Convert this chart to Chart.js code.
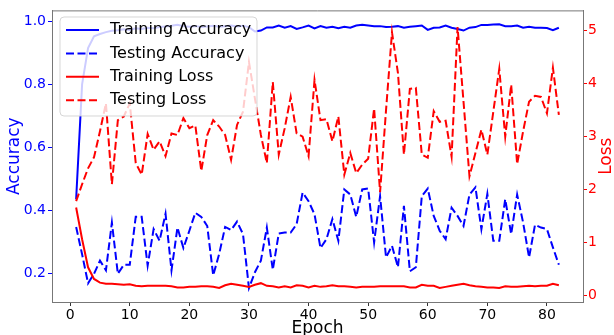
<!DOCTYPE html>
<html>
<head>
<meta charset="utf-8">
<script src="https://cdn.jsdelivr.net/npm/chart.js@4.4.1/dist/chart.umd.min.js"></script>
<style>
  html, body { margin: 0; padding: 0; background: #fff; }
  #wrap { width: 614px; height: 335px; }
</style>
</head>
<body>
<div id="wrap"><canvas id="chart" width="614" height="335"></canvas></div>
<script>
// epochs 1..82
var epochs = [];
for (var i = 1; i <= 82; i++) epochs.push(i);

var trainAcc = [
  0.435, 0.80, 0.915, 0.953, 0.960, 0.966, 0.970, 0.972, 0.975, 0.973,
  0.978, 0.976, 0.980, 0.978, 0.982, 0.984, 0.986, 0.989, 0.985, 0.983,
  0.985, 0.982, 0.984, 0.986, 0.983, 0.985, 0.987, 0.984, 0.986, 0.982,
  0.968, 0.971, 0.981, 0.981, 0.987, 0.980, 0.985, 0.976, 0.981, 0.987,
  0.978, 0.985, 0.980, 0.983, 0.978, 0.983, 0.980, 0.987, 0.989, 0.987,
  0.985, 0.985, 0.982, 0.983, 0.985, 0.980, 0.983, 0.985, 0.987, 0.973,
  0.980, 0.981, 0.987, 0.980, 0.976, 0.971, 0.980, 0.982, 0.989, 0.989,
  0.990, 0.991, 0.985, 0.985, 0.987, 0.980, 0.983, 0.980, 0.980, 0.979,
  0.972, 0.980
];

var testAcc = [
  0.347, 0.26, 0.168, 0.198, 0.240, 0.209, 0.361, 0.198, 0.227, 0.227,
  0.379, 0.379, 0.224, 0.340, 0.303, 0.389, 0.209, 0.345, 0.280, 0.335,
  0.392, 0.379, 0.350, 0.193, 0.261, 0.347, 0.337, 0.364, 0.324, 0.153,
  0.203, 0.240, 0.345, 0.211, 0.326, 0.329, 0.329, 0.356, 0.456, 0.429,
  0.387, 0.280, 0.308, 0.372, 0.303, 0.466, 0.450, 0.379, 0.466, 0.469,
  0.298, 0.445, 0.250, 0.287, 0.219, 0.414, 0.206, 0.219, 0.445, 0.469,
  0.382, 0.335, 0.308, 0.408, 0.382, 0.350, 0.450, 0.473, 0.340, 0.452,
  0.303, 0.303, 0.435, 0.324, 0.450, 0.361, 0.250, 0.354, 0.345, 0.340,
  0.282, 0.227
];

var trainLoss = [
  1.66, 1.06, 0.53, 0.31, 0.24, 0.22, 0.22, 0.21, 0.20, 0.21,
  0.18, 0.17, 0.18, 0.18, 0.18, 0.18, 0.17, 0.15, 0.15, 0.16,
  0.16, 0.17, 0.17, 0.16, 0.14, 0.19, 0.22, 0.20, 0.18, 0.16,
  0.20, 0.23, 0.18, 0.17, 0.15, 0.17, 0.15, 0.19, 0.18, 0.15,
  0.18, 0.16, 0.17, 0.19, 0.17, 0.17, 0.16, 0.15, 0.16, 0.16,
  0.16, 0.17, 0.17, 0.17, 0.17, 0.17, 0.15, 0.15, 0.20, 0.18,
  0.18, 0.14, 0.16, 0.18, 0.20, 0.22, 0.19, 0.17, 0.16, 0.15,
  0.15, 0.14, 0.17, 0.16, 0.16, 0.17, 0.18, 0.17, 0.18, 0.18,
  0.22, 0.19
];

var testLoss = [
  1.78, 2.10, 2.40, 2.61, 3.10, 3.63, 2.10, 3.31, 3.38, 3.63,
  2.50, 2.28, 3.05, 2.75, 2.91, 2.63, 3.06, 3.03, 3.35, 3.16,
  3.21, 2.35, 3.03, 3.31, 3.19, 3.03, 2.56, 3.22, 3.47, 4.41,
  3.72, 3.03, 2.50, 4.03, 2.66, 3.16, 3.75, 3.06, 3.00, 2.63,
  4.07, 3.31, 3.33, 2.91, 3.38, 2.28, 2.69, 2.31, 2.47, 2.58,
  3.53, 1.95, 3.50, 4.97, 4.20, 2.66, 3.90, 3.92, 2.66, 2.60,
  3.48, 3.28, 3.30, 2.62, 5.07, 3.66, 2.25, 2.69, 3.13, 2.66,
  3.47, 4.28, 3.00, 3.98, 2.48, 3.10, 3.66, 3.77, 3.75, 3.44,
  4.30, 3.41
];

var xTicks = [0, 10, 20, 30, 40, 50, 60, 70, 80];
var accTicks = [0.2, 0.4, 0.6, 0.8, 1.0];
var lossTicks = [0, 1, 2, 3, 4, 5];

var FONT = "'DejaVu Sans', sans-serif";
var DASH = [8, 3.5];

var toPoints = function(vals) {
  return epochs.map(function(e, i) { return { x: e, y: vals[i] }; });
};

var setTicks = function(list) {
  return function(scale) {
    scale.ticks = list.map(function(v) { return { value: v }; });
  };
};

var legendItems = [
  { label: "Training Accuracy", color: "#0000ff", dash: [] },
  { label: "Testing Accuracy", color: "#0000ff", dash: DASH },
  { label: "Training Loss", color: "#ff0000", dash: [] },
  { label: "Testing Loss", color: "#ff0000", dash: DASH }
];

var overlay = {
  id: "overlay",
  afterDraw: function(chart) {
    var ctx = chart.ctx;
    var a = chart.chartArea;
    ctx.save();
    // top spine
    ctx.strokeStyle = "#777";
    ctx.lineWidth = 1;
    ctx.beginPath();
    ctx.moveTo(a.left, a.top + 0.5);
    ctx.lineTo(a.right, a.top + 0.5);
    ctx.stroke();

    // right axis title, reads bottom to top
    ctx.translate(607, (a.top + a.bottom) / 2);
    ctx.rotate(-Math.PI / 2);
    ctx.fillStyle = "#ff0000";
    ctx.font = "17px " + FONT;
    ctx.textAlign = "center";
    ctx.textBaseline = "middle";
    ctx.fillText("Loss", 0, 0);
    ctx.restore();

    // legend box
    ctx.save();
    var bx = 60, by = 17, bw = 197, bh = 99, r = 4;
    ctx.beginPath();
    ctx.moveTo(bx + r, by);
    ctx.lineTo(bx + bw - r, by);
    ctx.arcTo(bx + bw, by, bx + bw, by + r, r);
    ctx.lineTo(bx + bw, by + bh - r);
    ctx.arcTo(bx + bw, by + bh, bx + bw - r, by + bh, r);
    ctx.lineTo(bx + r, by + bh);
    ctx.arcTo(bx, by + bh, bx, by + bh - r, r);
    ctx.lineTo(bx, by + r);
    ctx.arcTo(bx, by, bx + r, by, r);
    ctx.closePath();
    ctx.fillStyle = "rgba(255,255,255,0.8)";
    ctx.fill();
    ctx.strokeStyle = "rgba(204,204,204,0.8)";
    ctx.lineWidth = 1;
    ctx.stroke();

    ctx.font = "16px " + FONT;
    ctx.textBaseline = "middle";
    legendItems.forEach(function(item, k) {
      var y = 30 + k * 23.4;
      ctx.strokeStyle = item.color;
      ctx.lineWidth = 2;
      ctx.setLineDash(item.dash);
      ctx.beginPath();
      ctx.moveTo(66, y);
      ctx.lineTo(99, y);
      ctx.stroke();
      ctx.setLineDash([]);
      ctx.fillStyle = "#000";
      ctx.fillText(item.label, 110, y);
    });
    ctx.restore();
  }
};

var line = function(label, vals, color, dash, axis, order) {
  return {
    label: label,
    data: toPoints(vals),
    borderColor: color,
    backgroundColor: color,
    borderWidth: 2,
    borderDash: dash,
    pointRadius: 0,
    tension: 0,
    fill: false,
    yAxisID: axis,
    order: order
  };
};

var ctx = document.getElementById("chart").getContext("2d");
var myChart = new Chart(ctx, {
  type: "line",
  data: {
    datasets: [
      line("Training Accuracy", trainAcc, "#0000ff", [], "y", 4),
      line("Testing Accuracy", testAcc, "#0000ff", DASH, "y", 3),
      line("Training Loss", trainLoss, "#ff0000", [], "y1", 2),
      line("Testing Loss", testLoss, "#ff0000", DASH, "y1", 1)
    ]
  },
  options: {
    responsive: false,
    animation: false,
    events: [],
    layout: { padding: { top: 8, left: 0, right: 0, bottom: 0 } },
    plugins: { legend: { display: false }, tooltip: { enabled: false } },
    scales: {
      x: {
        type: "linear",
        min: -3.05,
        max: 86.05,
        afterBuildTicks: setTicks(xTicks),
        afterFit: function(s) { s.height = 33; },
        grid: { drawOnChartArea: false, tickLength: 4, color: "#333" },
        border: { color: "#777", width: 1 },
        ticks: { color: "#000", font: { family: FONT, size: 14 }, padding: 1, maxRotation: 0 },
        title: { display: true, text: "Epoch", color: "#000", font: { family: FONT, size: 17 }, padding: { top: 0, bottom: -4 } }
      },
      y: {
        type: "linear",
        position: "left",
        min: 0.1085,
        max: 1.035,
        afterBuildTicks: setTicks(accTicks),
        afterFit: function(s) { s.width = 52; },
        grid: { drawOnChartArea: false, tickLength: 4, color: "#0000ff" },
        border: { color: "#777", width: 1 },
        ticks: {
          color: "#0000ff",
          font: { family: FONT, size: 14 },
          padding: 2,
          callback: function(v) { return v.toFixed(1); }
        },
        title: { display: true, text: "Accuracy", color: "#0000ff", font: { family: FONT, size: 17 } }
      },
      y1: {
        type: "linear",
        position: "right",
        min: -0.126,
        max: 5.385,
        afterBuildTicks: setTicks(lossTicks),
        afterFit: function(s) { s.width = 31; },
        grid: { drawOnChartArea: false, tickLength: 4, color: "#ff0000" },
        border: { color: "#777", width: 1 },
        ticks: { color: "#ff0000", font: { family: FONT, size: 14 }, padding: 1 },
        title: { display: false }
      }
    }
  },
  plugins: [overlay]
});
</script>
</body>
</html>
